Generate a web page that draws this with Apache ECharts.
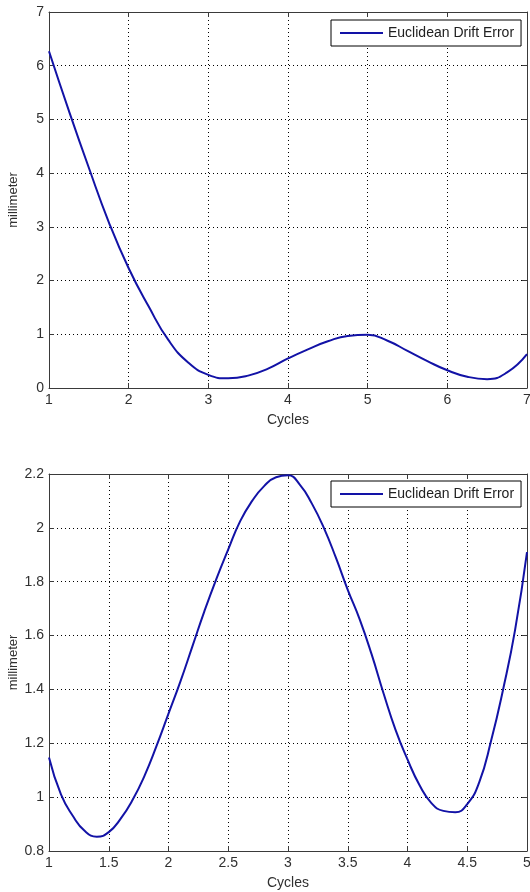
<!DOCTYPE html>
<html>
<head>
<meta charset="utf-8">
<script src="https://cdn.jsdelivr.net/npm/echarts@6/dist/echarts.min.js"></script>
<style>
html,body{margin:0;padding:0;background:#fff;}
#chart{width:530px;height:892px;}
</style>
</head>
<body>
<div id="chart"></div>
<script>
// Top chart data
var topX = [1, 1.25, 1.5, 1.75, 2, 2.25, 2.5, 2.75, 3, 3.25, 3.5, 3.75, 4, 4.25, 4.5, 4.75, 5, 5.25, 5.5, 5.75, 6, 6.25, 6.5, 6.75, 7];
var topY = [6.27, 5.16, 4.10, 3.09, 2.23, 1.52, 0.89, 0.47, 0.245, 0.18, 0.23, 0.36, 0.55, 0.72, 0.87, 0.97, 0.99, 0.88, 0.69, 0.50, 0.33, 0.21, 0.165, 0.29, 0.63];
// Bottom chart data
var botX = [1, 1.1, 1.2, 1.3, 1.4, 1.5, 1.6, 1.7, 1.8, 1.9, 2, 2.1, 2.2, 2.3, 2.4, 2.5, 2.6, 2.7, 2.8, 2.9, 3, 3.1, 3.2, 3.3, 3.4, 3.5, 3.6, 3.7, 3.8, 3.9, 4, 4.1, 4.2, 4.3, 4.4, 4.5, 4.6, 4.7, 4.8, 4.9, 5];
var botY = [1.147, 1.01, 0.93, 0.874, 0.853, 0.87, 0.92, 0.99, 1.08, 1.19, 1.31, 1.43, 1.56, 1.69, 1.81, 1.92, 2.025, 2.10, 2.155, 2.188, 2.195, 2.16, 2.09, 2.00, 1.89, 1.77, 1.66, 1.53, 1.385, 1.25, 1.14, 1.045, 0.978, 0.949, 0.944, 0.974, 1.055, 1.21, 1.40, 1.62, 1.91];
var seriesName = 'Euclidean Drift Error';
var xName = 'Cycles';
var yName = 'millimeter';

function pairs(xs, ys) { return xs.map(function (x, i) { return [x, ys[i]]; }); }

var FONT = 'Liberation Sans, Arial, sans-serif';
var axisColor = '#3a3a3a';
var labelColor = '#303030';
var lineColor = '#1212a6';

function mainX(grid, min, max, interval) {
  return {
    type: 'value', gridIndex: grid, min: min, max: max, interval: interval,
    name: xName, nameLocation: 'middle', nameGap: 25, nameMoveOverlap: false,
    nameTextStyle: { fontFamily: FONT, fontSize: 14, color: labelColor },
    axisLine: { show: true, onZero: false, lineStyle: { color: axisColor, width: 1 } },
    axisTick: { show: true, inside: true, length: 5, lineStyle: { color: axisColor } },
    axisLabel: { fontFamily: FONT, fontSize: 14, color: labelColor, margin: 5, showMinLabel: true, showMaxLabel: true },
    splitLine: { show: true, lineStyle: { color: '#000', type: [1, 3], width: 1 } }
  };
}
function mainY(grid, min, max, interval) {
  return {
    type: 'value', gridIndex: grid, min: min, max: max, interval: interval,
    name: yName, nameLocation: 'middle', nameGap: 29, nameRotate: 90, nameMoveOverlap: false,
    nameTextStyle: { fontFamily: FONT, fontSize: 13, color: labelColor },
    axisLine: { show: true, onZero: false, lineStyle: { color: axisColor, width: 1 } },
    axisTick: { show: true, inside: true, length: 5, lineStyle: { color: axisColor } },
    axisLabel: { fontFamily: FONT, fontSize: 14, color: labelColor, margin: 5, showMinLabel: true, showMaxLabel: true },
    splitLine: { show: true, lineStyle: { color: '#000', type: [1, 3], width: 1 } }
  };
}
function secX(grid, min, max, interval) {
  return {
    type: 'value', gridIndex: grid, min: min, max: max, interval: interval, position: 'top',
    axisLine: { show: true, onZero: false, lineStyle: { color: axisColor, width: 1 } },
    axisTick: { show: true, inside: true, length: 5, lineStyle: { color: axisColor } },
    axisLabel: { show: false }, splitLine: { show: false }
  };
}
function secY(grid, min, max, interval) {
  return {
    type: 'value', gridIndex: grid, min: min, max: max, interval: interval, position: 'right',
    axisLine: { show: true, onZero: false, lineStyle: { color: axisColor, width: 1 } },
    axisTick: { show: true, inside: true, length: 5, lineStyle: { color: axisColor } },
    axisLabel: { show: false }, splitLine: { show: false }
  };
}
function legend(top) {
  return {
    left: 331, top: top, orient: 'horizontal',
    padding: [6, 7, 6, 9], itemWidth: 43, itemHeight: 2, icon: 'rect',
    backgroundColor: '#fff', borderColor: '#000', borderWidth: 1, borderRadius: 0,
    textStyle: { fontFamily: FONT, fontSize: 14, color: '#202020' },
    data: [{ name: seriesName }]
  };
}

var chart = echarts.init(document.getElementById('chart'), null, { renderer: 'canvas' });
chart.setOption({
  animation: false,
  backgroundColor: '#fff',
  grid: [
    { left: 49, top: 12, width: 478, height: 376, containLabel: false, outerBoundsMode: 'none' },
    { left: 49, top: 474, width: 478, height: 377, containLabel: false, outerBoundsMode: 'none' }
  ],
  xAxis: [mainX(0, 1, 7, 1), mainX(1, 1, 5, 0.5), secX(0, 1, 7, 1), secX(1, 1, 5, 0.5)],
  yAxis: [mainY(0, 0, 7, 1), mainY(1, 0.8, 2.2, 0.2), secY(0, 0, 7, 1), secY(1, 0.8, 2.2, 0.2)],
  legend: [legend(20), legend(481)],
  series: [
    { name: seriesName, type: 'line', xAxisIndex: 0, yAxisIndex: 0, data: pairs(topX, topY),
      smooth: 0.5, symbol: 'none', lineStyle: { color: lineColor, width: 2 }, itemStyle: { color: lineColor } },
    { name: seriesName, type: 'line', xAxisIndex: 1, yAxisIndex: 1, data: pairs(botX, botY),
      smooth: 0.5, symbol: 'none', lineStyle: { color: lineColor, width: 2 }, itemStyle: { color: lineColor } }
  ]
});
</script>
</body>
</html>
